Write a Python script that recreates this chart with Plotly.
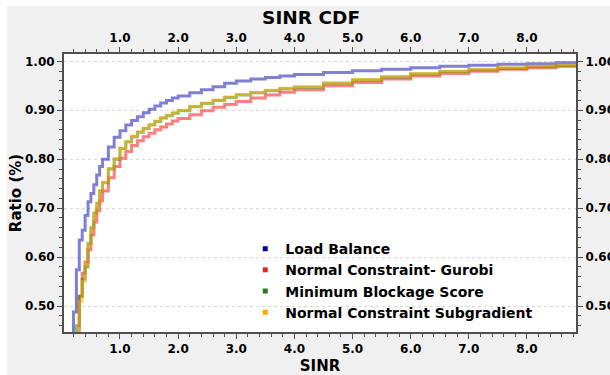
import plotly.graph_objects as go

# ---- data ----
sinr = [0.1, 0.2, 0.25, 0.3, 0.35, 0.4, 0.45, 0.5, 0.55, 0.6, 0.65, 0.7, 0.8, 0.9,
        1.0, 1.1, 1.2, 1.3, 1.4, 1.5, 1.6, 1.7, 1.8, 1.9, 2.0, 2.2, 2.4, 2.6, 2.8,
        3.0, 3.25, 3.5, 3.75, 4.0, 4.5, 5.0, 5.5, 6.0, 6.5, 7.0, 7.5, 8.0, 8.5, 8.9]

load_balance = [0.40, 0.488, 0.574, 0.635, 0.655, 0.685, 0.713, 0.730, 0.748, 0.768,
                0.785, 0.800, 0.825, 0.845, 0.858, 0.870, 0.879, 0.887, 0.895, 0.902,
                0.909, 0.915, 0.920, 0.925, 0.929, 0.936, 0.942, 0.948, 0.955, 0.960,
                0.964, 0.967, 0.970, 0.973, 0.977, 0.981, 0.984, 0.987, 0.990, 0.992,
                0.994, 0.995, 0.997, 0.998]

nc_gurobi = [0.40, 0.42, 0.44, 0.520, 0.567, 0.590, 0.615, 0.645, 0.672, 0.695,
             0.715, 0.735, 0.762, 0.785, 0.802, 0.816, 0.828, 0.838, 0.846, 0.853,
             0.860, 0.866, 0.872, 0.878, 0.883, 0.891, 0.899, 0.906, 0.912, 0.918,
             0.925, 0.931, 0.937, 0.942, 0.950, 0.957, 0.964, 0.970, 0.975, 0.980,
             0.984, 0.987, 0.990, 0.992]

min_blockage = [0.40, 0.42, 0.460, 0.520, 0.555, 0.580, 0.628, 0.660, 0.690, 0.710,
                0.735, 0.752, 0.780, 0.800, 0.822, 0.835, 0.846, 0.855, 0.863, 0.870,
                0.877, 0.884, 0.889, 0.894, 0.899, 0.907, 0.914, 0.920, 0.926, 0.931,
                0.936, 0.940, 0.944, 0.947, 0.955, 0.962, 0.968, 0.974, 0.979, 0.983,
                0.986, 0.989, 0.991, 0.993]

nc_subgradient = [0.40, 0.42, 0.440, 0.510, 0.550, 0.585, 0.625, 0.658, 0.688, 0.710,
                  0.736, 0.753, 0.781, 0.801, 0.823, 0.836, 0.847, 0.856, 0.864, 0.871,
                  0.878, 0.885, 0.890, 0.895, 0.900, 0.908, 0.915, 0.921, 0.927, 0.932,
                  0.937, 0.941, 0.945, 0.948, 0.956, 0.963, 0.969, 0.975, 0.980, 0.984,
                  0.987, 0.990, 0.992, 0.994]

series_names = ["Load Balance", "Normal Constraint- Gurobi",
                "Minimum Blockage Score", "Normal Constraint Subgradient"]
series_values = [load_balance, nc_gurobi, min_blockage, nc_subgradient]
line_colors = ["rgba(0,0,170,0.5)", "rgba(255,20,20,0.55)",
               "rgba(0,130,0,0.5)", "rgba(255,170,0,0.55)"]
marker_colors = ["#0000a0", "#ee2020", "#208020", "#ffaa00"]

x_ticks = [1.0, 2.0, 3.0, 4.0, 5.0, 6.0, 7.0, 8.0]
y_ticks = [0.50, 0.60, 0.70, 0.80, 0.90, 1.00]

FONT = "DejaVu Sans"

fig = go.Figure()

for name, vals, col in zip(series_names, series_values, line_colors):
    fig.add_trace(go.Scatter(
        x=sinr, y=vals, mode="lines", name=name, showlegend=False,
        line=dict(color=col, width=3, shape="hv"), hoverinfo="skip"))

for name, col in zip(series_names, marker_colors):
    fig.add_trace(go.Scatter(
        x=[None], y=[None], mode="markers", name=name, xaxis="x2", yaxis="y2",
        marker=dict(symbol="square", size=5, color=col)))

x_range = [0.037, 8.843]
y_range = [0.447, 1.015]

axis_common = dict(
    showline=True, linecolor="#505050", linewidth=2, automargin=False,
    ticks="outside", ticklen=5, tickwidth=1, tickcolor="#505050",
    tickfont=dict(family=FONT, size=12, color="#000", weight="bold"),
    zeroline=False,
)

fig.update_layout(
    width=610, height=375,
    margin=dict(l=64, r=34, t=54, b=43),
    paper_bgcolor="#f0f0f0", plot_bgcolor="white",
    title=dict(text="SINR CDF", x=0.51, xanchor="center", y=0.953, yanchor="middle",
               font=dict(family=FONT, size=18.5, color="#000", weight="bold")),
    xaxis=dict(range=x_range, tickvals=x_ticks, tickformat=".1f", showgrid=False,
               minor=dict(dtick=0.2, tick0=0, ticks="outside", ticklen=3,
                          tickcolor="#505050", showgrid=False),
               title=dict(text="SINR", standoff=5,
                          font=dict(family=FONT, size=15, color="#000", weight="bold")),
               **axis_common),
    yaxis=dict(range=y_range, tickvals=y_ticks, tickformat=".2f", showgrid=True,
               gridcolor="#d8d8d8", gridwidth=1, griddash="3px,3px",
               minor=dict(dtick=0.02, tick0=0, ticks="outside", ticklen=3,
                          tickcolor="#505050", showgrid=False),
               title=dict(text="Ratio (%)", standoff=0,
                          font=dict(family=FONT, size=15, color="#000", weight="bold")),
               **axis_common),
    xaxis2=dict(range=x_range, tickvals=x_ticks, tickformat=".1f", showgrid=False,
                overlaying="x", side="top", matches="x",
                minor=dict(dtick=0.2, tick0=0, ticks="outside", ticklen=3,
                           tickcolor="#505050", showgrid=False),
                **axis_common),
    yaxis2=dict(range=y_range, tickvals=y_ticks, tickformat=".2f", showgrid=False,
                overlaying="y", side="right", matches="y",
                minor=dict(dtick=0.02, tick0=0, ticks="outside", ticklen=3,
                           tickcolor="#505050", showgrid=False),
                **axis_common),
    legend=dict(x=0.354, y=0.356, xanchor="left", yanchor="top",
                bgcolor="rgba(0,0,0,0)", borderwidth=0, itemwidth=30,
                font=dict(family=FONT, size=14, color="#000", weight="bold"),
                tracegroupgap=0),
    showlegend=True,
    shapes=[
        dict(type="rect", xref="paper", yref="paper", x0=-0.2, x1=1.2,
             y0=1.173, y1=1.3, fillcolor="white", line=dict(width=0), layer="below"),
        dict(type="rect", xref="paper", yref="paper", x0=-0.2, x1=-0.111,
             y0=-0.3, y1=1.3, fillcolor="white", line=dict(width=0), layer="below"),
    ],
)

fig.write_html("out.html")
